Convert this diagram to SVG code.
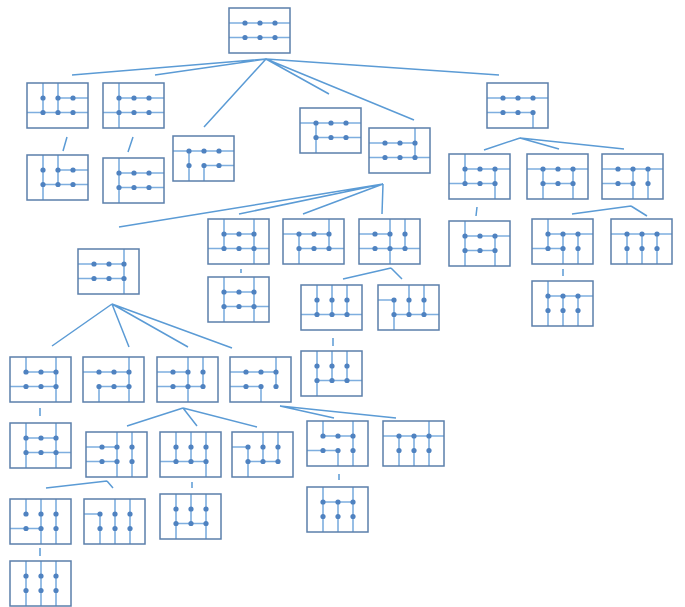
<svg xmlns="http://www.w3.org/2000/svg" xmlns:xlink="http://www.w3.org/1999/xlink" width="685" height="607" viewBox="0 0 685 607">
<style>
.box{fill:none;stroke:#5b7fab;stroke-width:1.5}
.grid{fill:none;stroke:#7eaedf;stroke-width:1.6}
.dot{fill:#4f82c0}
.conn{fill:none;stroke:#5b9bd5;stroke-width:1.5}
</style>
<defs>
<g id="dots">
<circle class="dot" cx="16" cy="15" r="2.6"/><circle class="dot" cx="31" cy="15" r="2.6"/><circle class="dot" cx="46" cy="15" r="2.6"/>
<circle class="dot" cx="16" cy="29.5" r="2.6"/><circle class="dot" cx="31" cy="29.5" r="2.6"/><circle class="dot" cx="46" cy="29.5" r="2.6"/>
</g>
<rect id="frame" class="box" width="61" height="45"/>
</defs>
<rect width="685" height="607" fill="#ffffff"/>
<g id="connectors">
<path class="conn" d="M266 59L72 75M266 59L155 75M266 59L204 127M266 59L329 94M266 59L414 120M266 59L499 75"/>
<path class="conn" d="M67 137L63 151M133 137L128 152"/>
<path class="conn" d="M520 138L484 150M520 138L559 149M520 138L624 149"/>
<path class="conn" d="M477 207L476 216M631 206L572 214M631 206L647 216M563 269L563 276"/>
<path class="conn" d="M383 184L119 227M383 184L239 214M383 184L303 214M383 184L382 214"/>
<path class="conn" d="M241 269L241 273M391 268L343 279M391 268L402 279M333 338L333 346"/>
<path class="conn" d="M112 304L52 346M112 304L129 347M112 304L188 347M112 304L232 348"/>
<path class="conn" d="M40 408L40 416M183 408L127 426M183 408L197 426M183 408L257 427M280 406L334 418M280 406L396 418"/>
<path class="conn" d="M107 481L46 488M107 481L113 488M40 548L40 556M192 482L192 488M339 474L339 480"/>
</g>
<g id="root" transform="translate(229,8)"><path class="grid" d="M0 15H61M0 29.5H61"/><use href="#frame"/><use href="#dots"/></g>
<g id="nA" transform="translate(27,83)"><path class="grid" d="M16 0V29.5M31 0V29.5M31 15H61M0 29.5H61"/><use href="#frame"/><use href="#dots"/></g>
<g id="nB" transform="translate(103,83)"><path class="grid" d="M16 0V45M16 15H61M0 29.5H61"/><use href="#frame"/><use href="#dots"/></g>
<g id="nA1" transform="translate(27,155)"><path class="grid" d="M16 0V45M31 0V29.5M31 15H61M16 29.5H61"/><use href="#frame"/><use href="#dots"/></g>
<g id="nB1" transform="translate(103,158)"><path class="grid" d="M16 0V45M16 15H61M16 29.5H61"/><use href="#frame"/><use href="#dots"/></g>
<g id="nC" transform="translate(173,136)"><path class="grid" d="M0 15H61M16 15V45M31 29.5V45M31 29.5H61"/><use href="#frame"/><use href="#dots"/></g>
<g id="nD" transform="translate(300,108)"><path class="grid" d="M0 15H61M16 15V45M16 29.5H61"/><use href="#frame"/><use href="#dots"/></g>
<g id="nE" transform="translate(369,128)"><path class="grid" d="M46 0V29.5M0 15H46M0 29.5H61"/><use href="#frame"/><use href="#dots"/></g>
<g id="nF" transform="translate(487,83)"><path class="grid" d="M0 15H61M0 29.5H46M46 29.5V45"/><use href="#frame"/><use href="#dots"/></g>
<g id="nF1" transform="translate(449,154)"><path class="grid" d="M16 0V29.5M16 15H61M0 29.5H46M46 15V45"/><use href="#frame"/><use href="#dots"/></g>
<g id="nF2" transform="translate(527,154)"><path class="grid" d="M0 15H61M16 15V45M16 29.5H46M46 15V45"/><use href="#frame"/><use href="#dots"/></g>
<g id="nF3" transform="translate(602,154)"><path class="grid" d="M0 15H61M31 15V45M46 15V45M0 29.5H31"/><use href="#frame"/><use href="#dots"/></g>
<g id="nF1a" transform="translate(449,221)"><path class="grid" d="M16 0V45M16 15H61M16 29.5H46M46 15V45"/><use href="#frame"/><use href="#dots"/></g>
<g id="nF2a" transform="translate(532,219)"><path class="grid" d="M16 0V29.5M16 15H61M0 29.5H31M31 15V45M46 15V45"/><use href="#frame"/><use href="#dots"/></g>
<g id="nF2b" transform="translate(611,219)"><path class="grid" d="M0 15H61M16 15V45M31 15V45M46 15V45"/><use href="#frame"/><use href="#dots"/></g>
<g id="nF2a1" transform="translate(532,281)"><path class="grid" d="M16 0V45M16 15H61M31 15V45M46 15V45"/><use href="#frame"/><use href="#dots"/></g>
<g id="nG" transform="translate(78,249)"><path class="grid" d="M0 15H46M0 29.5H46M46 0V45"/><use href="#frame"/><use href="#dots"/></g>
<g id="nH" transform="translate(208,219)"><path class="grid" d="M16 0V29.5M46 0V45M16 15H46M0 29.5H61"/><use href="#frame"/><use href="#dots"/></g>
<g id="nI" transform="translate(283,219)"><path class="grid" d="M0 15H46M46 0V29.5M16 29.5H61M16 15V45"/><use href="#frame"/><use href="#dots"/></g>
<g id="nJ" transform="translate(359,219)"><path class="grid" d="M0 15H31M31 0V45M46 0V29.5M0 29.5H61"/><use href="#frame"/><use href="#dots"/></g>
<g id="nH1" transform="translate(208,277)"><path class="grid" d="M16 0V45M46 0V45M16 15H46M16 29.5H61"/><use href="#frame"/><use href="#dots"/></g>
<g id="nJ1" transform="translate(301,285)"><path class="grid" d="M16 0V29.5M31 0V29.5M46 0V29.5M0 29.5H61"/><use href="#frame"/><use href="#dots"/></g>
<g id="nJ2" transform="translate(378,285)"><path class="grid" d="M0 15H16M16 15V45M31 0V29.5M46 0V29.5M16 29.5H61"/><use href="#frame"/><use href="#dots"/></g>
<g id="nJ1a" transform="translate(301,351)"><path class="grid" d="M16 0V45M31 0V29.5M46 0V29.5M16 29.5H61"/><use href="#frame"/><use href="#dots"/></g>
<g id="nK" transform="translate(10,357)"><path class="grid" d="M16 0V15M46 0V45M16 15H46M0 29.5H46"/><use href="#frame"/><use href="#dots"/></g>
<g id="nL" transform="translate(83,357)"><path class="grid" d="M0 15H46M46 0V45M16 29.5V45M16 29.5H46"/><use href="#frame"/><use href="#dots"/></g>
<g id="nM" transform="translate(157,357)"><path class="grid" d="M0 15H31M31 0V45M46 0V29.5M0 29.5H46"/><use href="#frame"/><use href="#dots"/></g>
<g id="nN" transform="translate(230,357)"><path class="grid" d="M0 15H46M46 0V29.5M0 29.5H31M31 29.5V45"/><use href="#frame"/><use href="#dots"/></g>
<g id="nK1" transform="translate(10,423)"><path class="grid" d="M16 0V45M46 0V45M16 15H46M16 29.5H61"/><use href="#frame"/><use href="#dots"/></g>
<g id="nN1" transform="translate(86,432)"><path class="grid" d="M0 15H31M0 29.5H31M31 0V45M46 0V45"/><use href="#frame"/><use href="#dots"/></g>
<g id="nN2" transform="translate(160,432)"><path class="grid" d="M16 0V29.5M31 0V29.5M46 0V45M0 29.5H46"/><use href="#frame"/><use href="#dots"/></g>
<g id="nN3" transform="translate(232,432)"><path class="grid" d="M0 15H16M16 15V45M31 0V29.5M46 0V29.5M16 29.5H46"/><use href="#frame"/><use href="#dots"/></g>
<g id="nN4" transform="translate(307,421)"><path class="grid" d="M16 0V15M16 15H46M46 0V45M0 29.5H31M31 29.5V45"/><use href="#frame"/><use href="#dots"/></g>
<g id="nN5" transform="translate(383,421)"><path class="grid" d="M0 15H61M16 15V45M31 15V45M46 0V45"/><use href="#frame"/><use href="#dots"/></g>
<g id="nO1" transform="translate(10,499)"><path class="grid" d="M16 0V15M31 0V45M46 0V45M0 29.5H31"/><use href="#frame"/><use href="#dots"/></g>
<g id="nO2" transform="translate(84,499)"><path class="grid" d="M0 15H16M16 15V45M31 0V45M46 0V45"/><use href="#frame"/><use href="#dots"/></g>
<g id="nO1a" transform="translate(10,561)"><path class="grid" d="M16 0V45M31 0V45M46 0V45"/><use href="#frame"/><use href="#dots"/></g>
<g id="nN2a" transform="translate(160,494)"><path class="grid" d="M16 0V45M31 0V29.5M46 0V45M16 29.5H46"/><use href="#frame"/><use href="#dots"/></g>
<g id="nN4a" transform="translate(307,487)"><path class="grid" d="M16 0V45M31 15V45M46 0V45M16 15H46"/><use href="#frame"/><use href="#dots"/></g>
</svg>
